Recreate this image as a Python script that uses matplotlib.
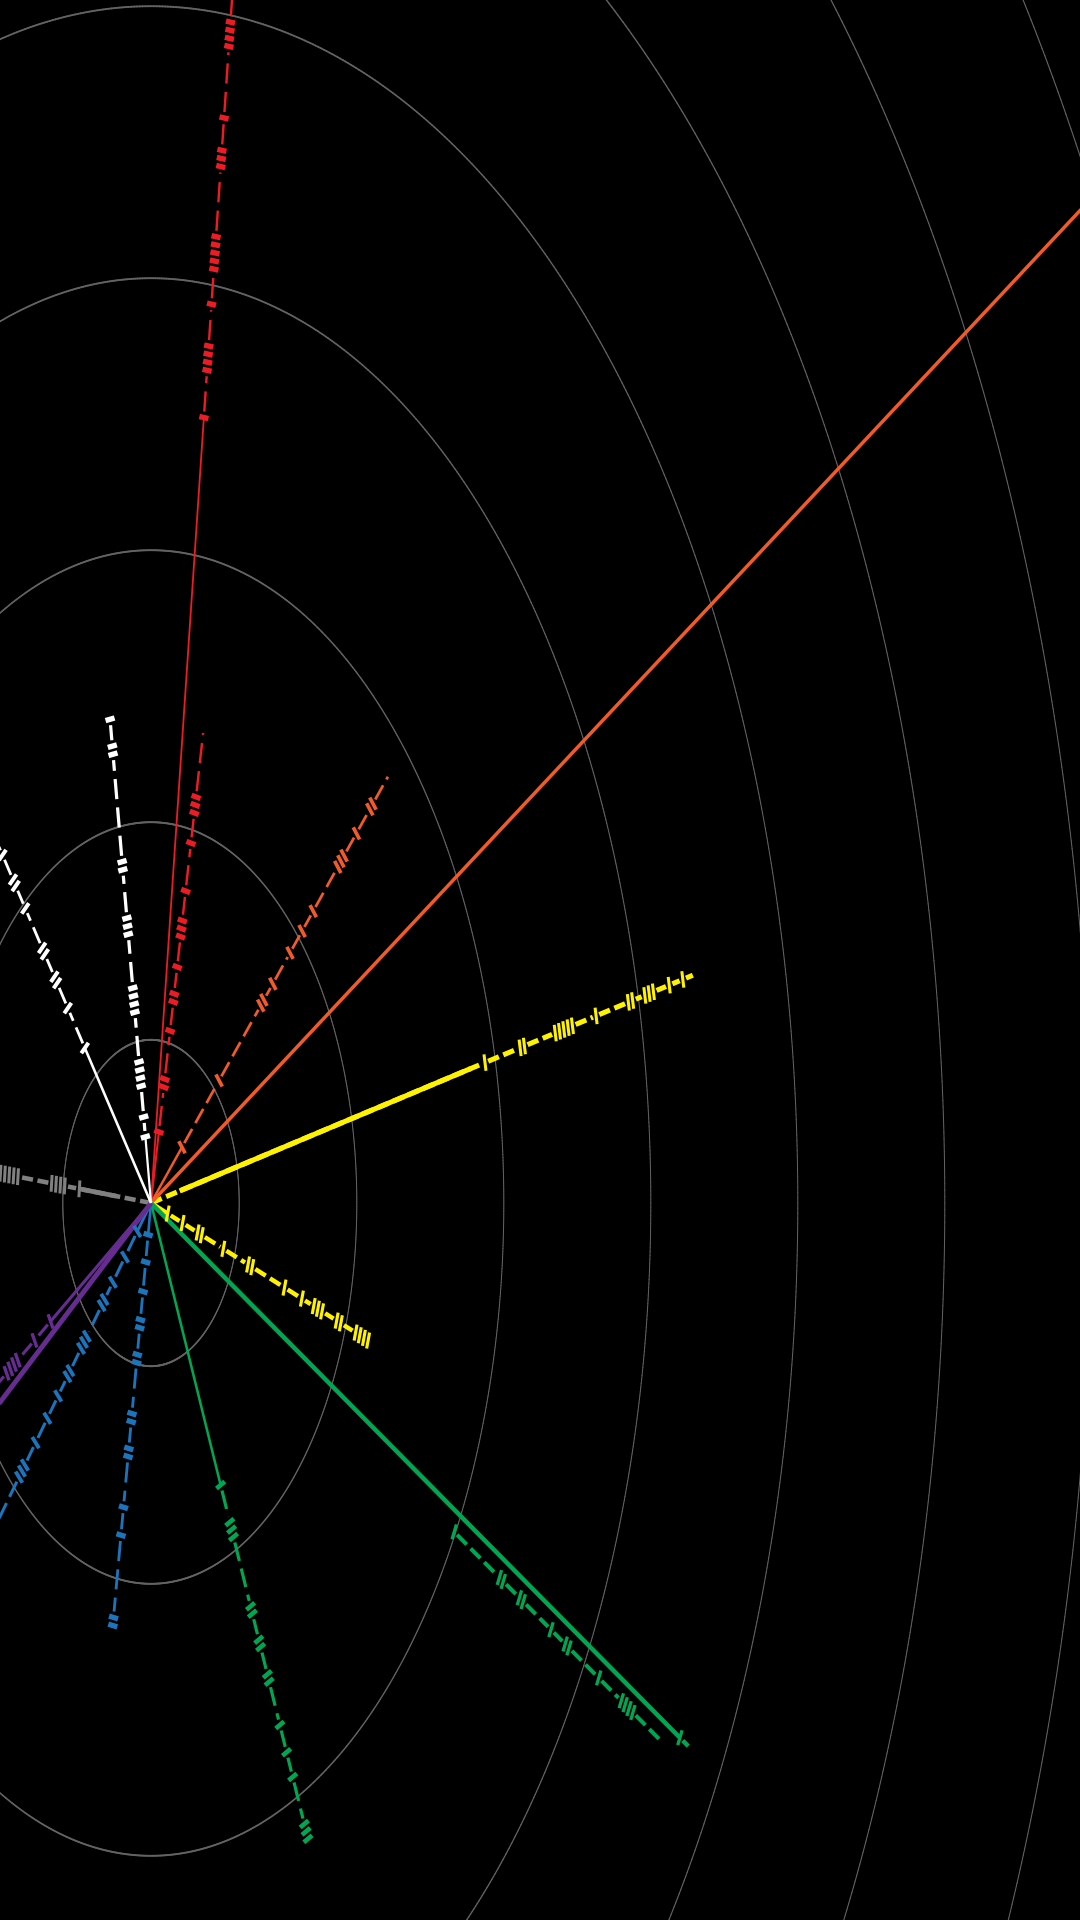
# Radial spokes with tally marks, drawn on a vertically stretched canvas
import numpy as np
import matplotlib
matplotlib.use('Agg')
import matplotlib.pyplot as plt
from matplotlib.collections import LineCollection

plt.rcParams['lines.scale_dashes'] = False

K = 1.85          # vertical stretch of the whole picture
PT = 72 / 100.0   # points per pixel at dpi 100

# rings (data radius)
ring_radii = [0.6, 1.4, 2.4, 3.4, 4.4, 5.4, 6.4, 7.4]

# spokes: angle (deg), solid part, end of the dashed part
names = ['red_a', 'red_b', 'orange_c', 'orange_d', 'yellow_e', 'yellow_f',
         'green_g', 'green_h', 'green_i', 'blue_j', 'blue_k',
         'purple_l', 'purple_m', 'gray_p', 'white_n', 'white_o']
angles = [82.9, 78.4, 30.0, 44.2, 12.8, -18.9,
          -28.65, -28.65, -65.45, -99.5, -131.7,
          -144.5, -147.5, 173.9, 128.3, 98.9]
solid_from = [0, 0, 0, 0, 0.2, 0,
              0, 0, 0, 0, 0,
              0, 0, 0.24, 0, 0]
solid_to = [2.91, 0.267, 8.0, 0.294, 2.23, 0.12,
            4.10, 0, 1.14, 0.118, 0.14,
            1.5, 0.81, 0.49, 0.726, 0.246]
dash_from = [None, None, None, None, 0, None,
             None, 2.39, None, None, None,
             None, None, 0, None, None]
dash_to = [4.65, 1.764, 8.0, 2.248, 3.78, 1.56,
           4.165, 3.98, 2.585, 1.584, 1.65,
           1.5, 1.5, 1.1, 1.75, 1.80]

# tally groups along each spoke: (radius, count)
tallies = {
    'red_a': [(2.91, 1), (3.13, 4), (3.33, 1), (3.52, 5), (3.87, 3), (4.02, 1), (4.33, 4)],
    'red_b': [(0.267, 1), (0.45, 2), (0.646, 1), (0.77, 2), (0.886, 1), (1.03, 3),
              (1.171, 1), (1.351, 1), (1.494, 3)],
    'orange_c': [],
    'orange_d': [(0.294, 1), (0.646, 1), (1.056, 2), (1.156, 1), (1.319, 1), (1.434, 1),
                 (1.539, 1), (1.802, 3), (1.949, 1), (2.091, 2)],
    'yellow_e': [(2.33, 1), (2.59, 2), (2.88, 5), (3.105, 1), (3.345, 2), (3.475, 3),
                 (3.615, 1), (3.71, 1)],
    'yellow_f': [(0.12, 1), (0.227, 1), (0.35, 2), (0.52, 1), (0.713, 2), (0.96, 1),
                 (1.085, 1), (1.20, 3), (1.35, 2), (1.516, 4)],
    'green_g': [(4.10, 1)],
    'green_h': [(2.39, 1), (2.755, 2), (2.91, 2), (3.14, 1), (3.265, 2), (3.51, 1), (3.73, 4)],
    'green_i': [(1.14, 1), (1.32, 3), (1.645, 2), (1.78, 2), (1.92, 2), (2.11, 1),
                (2.22, 1), (2.32, 1), (2.54, 3)],
    'blue_j': [(0.118, 1), (0.22, 1), (0.33, 1), (0.45, 2), (0.58, 2), (0.80, 2),
               (0.93, 2), (1.134, 1), (1.238, 1), (1.56, 2)],
    'blue_k': [(0.14, 1), (0.266, 1), (0.39, 1), (0.49, 2), (0.686, 3), (0.84, 2),
               (0.95, 1), (1.06, 1), (1.18, 1), (1.32, 3)],
    'purple_l': [],
    'purple_m': [(0.81, 1), (0.94, 1), (1.12, 4)],
    'gray_p': [(0.49, 1), (0.635, 4), (0.97, 5)],
    'white_n': [(0.726, 1), (0.913, 1), (1.045, 2), (1.18, 2), (1.38, 1), (1.50, 2), (1.63, 1)],
    'white_o': [(0.246, 1), (0.32, 1), (0.48, 4), (0.755, 4), (1.03, 3), (1.255, 2),
                (1.685, 2), (1.80, 1)],
}

# styles: colour, solid width, dash width (pixels before the stretch), side shift
style = {
    'red_a': ('#ED1C24', 1.8, 2.4, 0),
    'red_b': ('#ED1C24', 2.0, 2.4, 0),
    'orange_c': ('#F15A29', 2.4, 2.4, 0),
    'orange_d': ('#F15A29', 2.0, 2.2, 0),
    'yellow_e': ('#FFF200', 2.9, 2.9, 0),
    'yellow_f': ('#FFF200', 2.7, 2.7, 0),
    'green_g': ('#00A651', 3.0, 3.0, 0),
    'green_h': ('#00A651', 2.7, 2.7, -0.072),
    'green_i': ('#00A651', 2.4, 3.0, 0),
    'blue_j': ('#1C75BC', 2.6, 2.8, 0),
    'blue_k': ('#1C75BC', 2.4, 2.5, 0),
    'purple_l': ('#662D91', 3.6, 3.6, 0),
    'purple_m': ('#662D91', 2.2, 2.2, 0),
    'gray_p': ('#808080', 2.6, 2.5, 0),
    'white_n': ('#FFFFFF', 2.2, 2.4, 0),
    'white_o': ('#FFFFFF', 2.2, 3.2, 0),
}

DASH_ON, DASH_OFF = 11.0, 4.5   # px before the stretch
MARK_HALF = 0.031               # half length of a tally mark
MARK_STEP = 0.03                # spacing of marks in a group
MARK_W = 3.0
MARK_GAP = 0.022                # clear space either side of a group


def stretch(th):
    # how much a direction th (radians) is lengthened by the stretch
    return np.sqrt(np.cos(th) ** 2 + (K * np.sin(th)) ** 2)


def width(base, th):
    # apparent width of a line running along th
    return base * K / stretch(th) * PT


fig = plt.figure(figsize=(10.8, 19.2), dpi=100, facecolor='black')
ax = fig.add_axes([0, 0, 1, 1])
ax.set_facecolor('black')
ax.set_xlim(-151 / 147.0, 929 / 147.0)
ax.set_ylim(-717 / 272.0, 1203 / 272.0)
ax.axis('off')

# rings as short pieces so the width follows the stretch
t = np.linspace(0, 2 * np.pi, 1441)
for r in ring_radii:
    pts = np.column_stack([r * np.cos(t), r * np.sin(t)])
    segs = np.stack([pts[:-1], pts[1:]], axis=1)
    tm = 0.5 * (t[:-1] + t[1:]) + np.pi / 2
    lc = LineCollection(segs, colors='#636363', linewidths=width(1.0, tm), zorder=1,
                        capstyle='round')
    ax.add_collection(lc)

for ii, nm in enumerate(names):
    th = np.radians(angles[ii])
    c, s = np.cos(th), np.sin(th)
    col, sw, dw, shift = style[nm]
    ox, oy = -shift * s, shift * c   # sideways shift of the whole spoke
    f = stretch(th)

    # dashed part, broken where the tally groups sit
    d0 = dash_from[ii] if dash_from[ii] is not None else solid_to[ii]
    pieces = [[d0, dash_to[ii]]]
    for rc, n in tallies[nm]:
        lo = rc - (n - 1) / 2.0 * MARK_STEP - MARK_GAP
        hi = rc + (n - 1) / 2.0 * MARK_STEP + MARK_GAP
        new = []
        for a, b in pieces:
            if hi <= a or lo >= b:
                new.append([a, b])
            else:
                if lo > a:
                    new.append([a, lo])
                if hi < b:
                    new.append([hi, b])
        pieces = new
    for a, b in pieces:
        if b - a < 0.005:
            continue
        ax.plot([a * c + ox, b * c + ox], [a * s + oy, b * s + oy], color=col,
                lw=width(dw, th), dashes=(DASH_ON * f * PT, DASH_OFF * f * PT),
                solid_capstyle='butt', dash_capstyle='butt', zorder=2)

    # solid part
    if solid_to[ii] > solid_from[ii]:
        ax.plot([solid_from[ii] * c + ox, solid_to[ii] * c + ox],
                [solid_from[ii] * s + oy, solid_to[ii] * s + oy],
                color=col, lw=width(sw, th), solid_capstyle='butt', zorder=3)

    # tally marks, perpendicular to the spoke
    segs = []
    for rc, n in tallies[nm]:
        for k in range(n):
            rr = rc + (k - (n - 1) / 2.0) * MARK_STEP
            cx, cy = rr * c + ox, rr * s + oy
            segs.append([(cx + MARK_HALF * s, cy - MARK_HALF * c),
                         (cx - MARK_HALF * s, cy + MARK_HALF * c)])
    if segs:
        lc = LineCollection(segs, colors=col, linewidths=width(MARK_W, th + np.pi / 2),
                            capstyle='butt', zorder=4)
        ax.add_collection(lc)

fig.savefig('out.png', dpi=100, facecolor='black')
